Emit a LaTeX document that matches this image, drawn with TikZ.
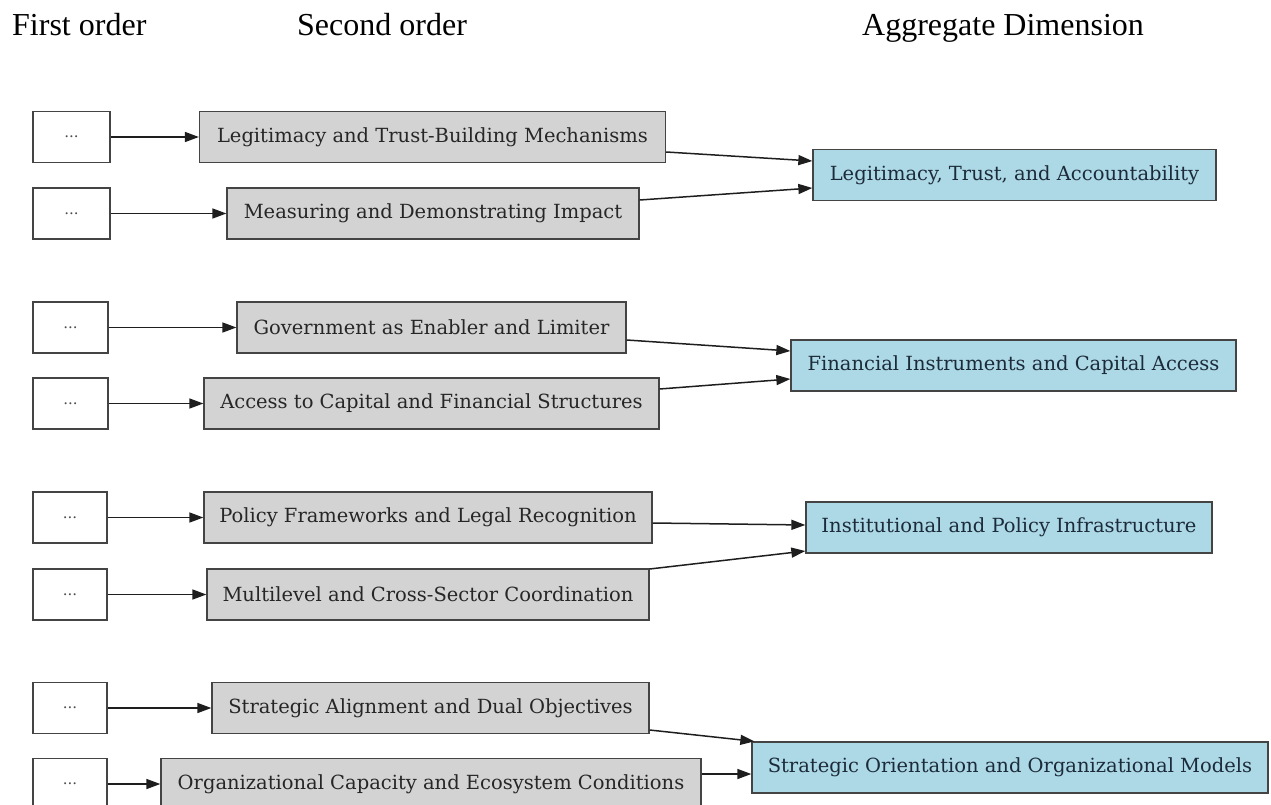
\documentclass[tikz,border=0pt]{standalone}
\usepackage{fontspec}
\setmainfont{Liberation Serif}
\newfontfamily\boxfont{DejaVu Serif}
\usetikzlibrary{arrows.meta}
\definecolor{boxline}{HTML}{444444}
\definecolor{secfill}{HTML}{D3D3D3}
\definecolor{aggfill}{HTML}{ADD8E6}
\definecolor{aggtext}{HTML}{1C2B3A}
\definecolor{edgecol}{HTML}{1E1E1E}
\tikzset{
  header/.style={anchor=base west, inner sep=0pt, font=\fontsize{32}{36}\selectfont},
  firstbox/.style={draw=boxline, line width=1.3pt, fill=white, inner sep=0pt,
    minimum height=51pt, font=\boxfont\fontsize{15}{18}\selectfont, text=black!70},
  secbox/.style={draw=boxline, line width=1.3pt, fill=secfill, inner sep=0pt,
    minimum height=51pt, font=\boxfont\fontsize{19.5}{22}\selectfont, text=black!85},
  aggbox/.style={draw=boxline, line width=1.3pt, fill=aggfill, inner sep=0pt,
    minimum height=51pt, font=\boxfont\fontsize{19.5}{22}\selectfont, text=aggtext},
  link/.style={draw=edgecol, line width=1.5pt, -{Triangle[length=14pt,width=10pt]}}
}
\begin{document}
\begin{tikzpicture}[x=1pt,y=1pt]
\useasboundingbox (0,0) rectangle (1271,-805);

% column headings
\node[header] (h1) at (12,-36) {First order};
\node[header] (h2) at (297,-36) {Second order};
\node[header] (h3) at (862,-36) {Aggregate Dimension};

% first-order boxes
\node[firstbox, minimum width=77pt] (f1) at (71.5,-137) {...};
\node[firstbox, minimum width=77pt] (f2) at (71.5,-213.5) {...};
\node[firstbox, minimum width=75pt] (f3) at (70.5,-327.5) {...};
\node[firstbox, minimum width=75pt] (f4) at (70.5,-403.5) {...};
\node[firstbox, minimum width=74pt] (f5) at (70,-517.5) {...};
\node[firstbox, minimum width=74pt] (f6) at (70,-594.5) {...};
\node[firstbox, minimum width=74pt] (f7) at (70,-708) {...};
\node[firstbox, minimum width=74pt] (f8) at (70,-784) {...};

% second-order boxes
\node[secbox, minimum width=466pt] (s1) at (432.5,-137) {Legitimacy and Trust-Building Mechanisms};
\node[secbox, minimum width=412pt] (s2) at (433,-213.5) {Measuring and Demonstrating Impact};
\node[secbox, minimum width=389pt] (s3) at (431.5,-327.5) {Government as Enabler and Limiter};
\node[secbox, minimum width=455pt] (s4) at (431.5,-403.5) {Access to Capital and Financial Structures};
\node[secbox, minimum width=448pt] (s5) at (428,-517.5) {Policy Frameworks and Legal Recognition};
\node[secbox, minimum width=442pt] (s6) at (428,-594.5) {Multilevel and Cross-Sector Coordination};
\node[secbox, minimum width=437pt] (s7) at (430.5,-708) {Strategic Alignment and Dual Objectives};
\node[secbox, minimum width=540pt] (s8) at (431,-784) {Organizational Capacity and Ecosystem Conditions};

% aggregate dimensions
\node[aggbox, minimum width=403pt] (a1) at (1014.5,-175) {Legitimacy, Trust, and Accountability};
\node[aggbox, minimum width=445pt] (a2) at (1013.5,-365.5) {Financial Instruments and Capital Access};
\node[aggbox, minimum width=406pt] (a3) at (1009,-527.5) {Institutional and Policy Infrastructure};
\node[aggbox, minimum width=516pt] (a4) at (1010,-767.5) {Strategic Orientation and Organizational Models};

% first order -> second order
\foreach \i in {1,...,8} { \draw[link] (f\i.east) -- (s\i.west); }

% second order -> aggregate dimension
\draw[link] ([yshift=-15pt]s1.east) -- ([yshift=14pt]a1.west);
\draw[link] ([yshift=13.5pt]s2.east) -- ([yshift=-13pt]a1.west);
\draw[link] ([yshift=-12.5pt]s3.east) -- ([yshift=14.5pt]a2.west);
\draw[link] ([yshift=14.5pt]s4.east) -- ([yshift=-13.5pt]a2.west);
\draw[link] ([yshift=-5.5pt]s5.east) -- ([yshift=2.5pt]a3.west);
\draw[link] ([yshift=25.5pt]s6.east) -- ([yshift=-23.5pt]a3.west);
\draw[link] ([yshift=-22pt]s7.east) -- ([xshift=3pt]a4.north west);
\draw[link] ([yshift=10pt]s8.east) -- ([yshift=-6.5pt]a4.west);
\end{tikzpicture}
\end{document}
